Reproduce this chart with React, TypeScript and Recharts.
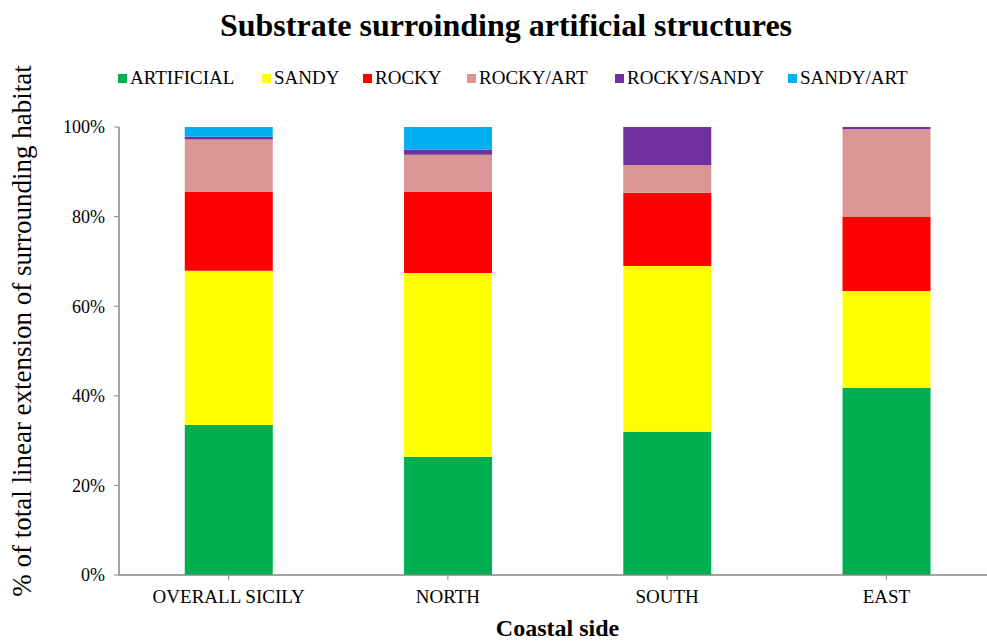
import { BarChart, Bar, XAxis, YAxis, Label } from "recharts";

const categories = ["OVERALL SICILY", "NORTH", "SOUTH", "EAST"];
const artificial = [33.5, 26.4, 32.0, 41.8];
const sandy = [34.4, 41.0, 37.0, 21.6];
const rocky = [17.6, 18.1, 16.3, 16.6];
const rockyArt = [11.7, 8.3, 6.2, 19.5];
const rockySandy = [0.6, 1.2, 8.5, 0.5];
const sandyArt = [2.2, 5.0, 0, 0];
const yTicks = [0, 20, 40, 60, 80, 100];

const series = [
  { key: "ARTIFICIAL", values: artificial, color: "#00B050" },
  { key: "SANDY", values: sandy, color: "#FFFF00" },
  { key: "ROCKY", values: rocky, color: "#FF0000" },
  { key: "ROCKY/ART", values: rockyArt, color: "#D99694" },
  { key: "ROCKY/SANDY", values: rockySandy, color: "#7030A0" },
  { key: "SANDY/ART", values: sandyArt, color: "#00B0F0" },
];

// legend item left edges
const legendX = [118, 262, 363, 467, 615, 788];

const data = categories.map((c, i) => {
  const row: any = { name: c };
  series.forEach((s) => (row[s.key] = s.values[i]));
  return row;
});

const font = '"Liberation Serif", "Times New Roman", serif';
const axisColor = "#868686";

// the y title sits a bit above the plot's middle in the original
const YTitle = () => (
  <text
    x={31}
    y={331}
    transform="rotate(-90 31 331)"
    textAnchor="middle"
    fontFamily={font}
    fontSize={27}
    fill="#000"
  >
    % of total linear extension of surrounding habitat
  </text>
);

export default function App() {
  return (
    <div style={{ position: "absolute", left: 0, top: 0, width: 987, height: 641, overflow: "hidden", background: "#fff" }}>
      <div
        style={{
          position: "absolute",
          left: 0,
          width: 1012,
          top: 5,
          textAlign: "center",
          fontFamily: font,
          fontWeight: "bold",
          fontSize: 32,
          lineHeight: "40px",
        }}
      >
        Substrate surroinding artificial structures
      </div>
      {series.map((s, i) => (
        <div
          key={s.key}
          style={{
            position: "absolute",
            left: legendX[i],
            top: 66,
            height: 24,
            display: "flex",
            alignItems: "center",
            fontFamily: font,
            fontSize: 19,
          }}
        >
          <span style={{ width: 9, height: 9, background: s.color, marginRight: 3 }} />
          <span>{s.key}</span>
        </div>
      ))}
      <div style={{ position: "absolute", left: 0, top: 0 }}>
        <BarChart
          width={1010}
          height={641}
          data={data}
          barCategoryGap="30%"
          margin={{ top: 127, right: 14, bottom: 0, left: 0 }}
        >
          <XAxis
            dataKey="name"
            height={66}
            tick={{ fontFamily: font, fontSize: 19, fill: "#000" }}
            tickLine={{ stroke: axisColor }}
            axisLine={{ stroke: axisColor, strokeWidth: 1.5 }}
            tickSize={5}
            tickMargin={10}
            interval={0}
          >
            <Label
              value="Coastal side"
              position="insideBottom"
              offset={5}
              style={{ fontFamily: font, fontWeight: "bold", fontSize: 24, fill: "#000" }}
            />
          </XAxis>
          <YAxis
            width={119}
            domain={[0, 100]}
            ticks={yTicks}
            tickFormatter={(v: number) => `${v}%`}
            tick={{ fontFamily: font, fontSize: 18, fill: "#000" }}
            tickLine={{ stroke: axisColor }}
            axisLine={{ stroke: axisColor, strokeWidth: 1.5 }}
            tickSize={5}
            tickMargin={9}
          >
            <Label content={<YTitle />} />
          </YAxis>
          {series.map((s) => (
            <Bar key={s.key} dataKey={s.key} stackId="a" fill={s.color} isAnimationActive={false} />
          ))}
        </BarChart>
      </div>
    </div>
  );
}
